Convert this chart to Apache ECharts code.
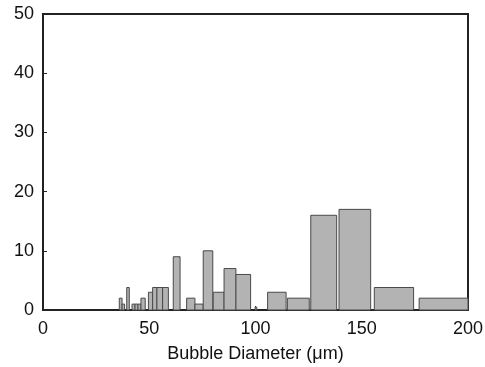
<!DOCTYPE html>
<html><head><meta charset="utf-8">
<script src="https://cdn.jsdelivr.net/npm/echarts@6/dist/echarts.min.js"></script>
<style>html,body{margin:0;padding:0;background:#fff}#c{width:485px;height:367px}</style>
</head><body><div id="c"></div>
<script>
const binStart = [35.9, 37.2, 39.4, 41.9, 43.3, 44.7, 46.1, 49.6, 51.6, 53.6, 56.3, 61.3, 67.6, 71.5, 75.4, 80.1, 85.2, 90.8, 99.8, 105.7, 115.0, 126.0, 139.3, 155.9, 177.0];
const binEnd   = [37.2, 38.4, 40.6, 43.3, 44.7, 46.1, 48.1, 51.6, 53.6, 56.3, 59.0, 64.5, 71.5, 75.4, 79.9, 85.2, 90.8, 97.7, 100.6, 114.4, 125.3, 138.2, 154.2, 174.4, 200.0];
const counts   = [2, 1, 3.8, 1, 1, 1, 2, 3, 3.8, 3.8, 3.8, 9, 2, 1, 10, 3, 7, 6, 0.5, 3, 2, 16, 17, 3.8, 2];
const xTicks = [0, 50, 100, 150, 200];
const yTicks = [0, 10, 20, 30, 40, 50];
const xTitle = 'Bubble Diameter (\u03bcm)';

const data = binStart.map((s, i) => [s, binEnd[i], counts[i]]);
const chart = echarts.init(document.getElementById('c'));
const font = 'Liberation Sans, Arial, sans-serif';
chart.setOption({
  animation: false,
  grid: {left: 43, right: 17, top: 14, bottom: 57, outerBoundsMode: 'none', containLabel: false, show: true, borderColor: '#222', borderWidth: 2, backgroundColor: 'transparent'},
  xAxis: {
    type: 'value', min: xTicks[0], max: xTicks[xTicks.length-1], interval: 50,
    name: xTitle, nameLocation: 'middle', nameGap: 35,
    nameTextStyle: {fontFamily: font, fontSize: 18, color: '#111'},
    axisLine: {show: true, lineStyle: {color: '#222', width: 2}},
    axisTick: {show: true, inside: true, length: 4, lineStyle: {color: '#222'}},
    axisLabel: {fontFamily: font, fontSize: 18, color: '#111', margin: 10},
    splitLine: {show: false}
  },
  yAxis: {
    type: 'value', min: yTicks[0], max: yTicks[yTicks.length-1], interval: 10,
    axisLine: {show: true, lineStyle: {color: '#222', width: 2}},
    axisTick: {show: true, inside: true, length: 4, lineStyle: {color: '#222'}},
    axisLabel: {fontFamily: font, fontSize: 18, color: '#111', margin: 9},
    splitLine: {show: false}
  },
  series: [{
    type: 'custom',
    data: data,
    encode: {x: [0, 1], y: 2},
    renderItem: function (params, api) {
      const p0 = api.coord([api.value(0), api.value(2)]);
      const p1 = api.coord([api.value(1), 0]);
      return {
        type: 'rect',
        shape: {x: p0[0], y: p0[1], width: p1[0] - p0[0], height: p1[1] - p0[1]},
        style: {fill: '#b3b3b3', stroke: '#4a4a4a', lineWidth: 1}
      };
    }
  }]
});
</script></body></html>
